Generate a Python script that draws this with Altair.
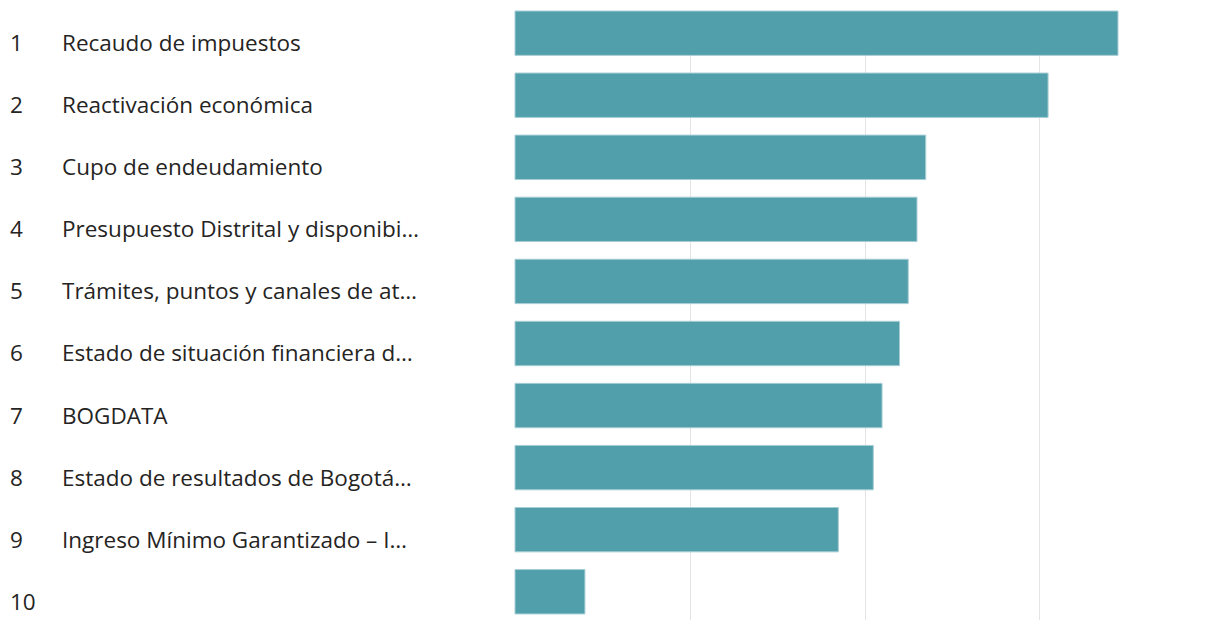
import altair as alt
import pandas as pd

ranks = [1, 2, 3, 4, 5, 6, 7, 8, 9, 10]
labels = [
    "Recaudo de impuestos",
    "Reactivación económica",
    "Cupo de endeudamiento",
    "Presupuesto Distrital y disponibi…",
    "Trámites, puntos y canales de at…",
    "Estado de situación financiera d…",
    "BOGDATA",
    "Estado de resultados de Bogotá…",
    "Ingreso Mínimo Garantizado – I…",
    "",
]
values = [69, 61, 47, 46, 45, 44, 42, 41, 37, 8]
grid_values = [20, 40, 60]

df = pd.DataFrame({"rank": ranks, "label": labels, "value": values})
df["rank_txt"] = df["rank"].astype(str)

y_enc = alt.Y(
    "rank:O",
    sort=ranks,
    axis=None,
    scale=alt.Scale(paddingInner=0.285, paddingOuter=0.1375, align=0),
)

base = alt.Chart(df)

bars = base.mark_bar(
    color="#529FAC",
    stroke="#A6CDD3",
    strokeWidth=1,
).encode(
    y=y_enc,
    x=alt.X(
        "value:Q",
        scale=alt.Scale(domain=[0, 78.5], nice=False, zero=True),
        axis=alt.Axis(
            values=grid_values,
            grid=True,
            gridColor="#E4E4E4",
            gridWidth=1,
            labels=False,
            ticks=False,
            domain=False,
            title=None,
        ),
    ),
)

font = "Open Sans"
rank_text = base.mark_text(
    align="left", baseline="middle", font=font, fontSize=22.5, color="#252423", dy=11
).encode(y=y_enc, x=alt.value(-505), text="rank_txt:N")

label_text = base.mark_text(
    align="left", baseline="middle", font=font, fontSize=22.5, color="#252423", dy=11
).encode(y=y_enc, x=alt.value(-453), text="label:N")

chart = (
    alt.layer(bars, rank_text, label_text)
    .properties(
        width=686,
        height=620,
        autosize=alt.AutoSizeParams(type="none"),
        padding={"left": 507, "top": 3, "right": 0, "bottom": 0},
        background="white",
    )
    .configure_view(strokeWidth=0, strokeOpacity=0)
)

chart.save("out.html", embed_options={"renderer": "svg", "actions": False})
